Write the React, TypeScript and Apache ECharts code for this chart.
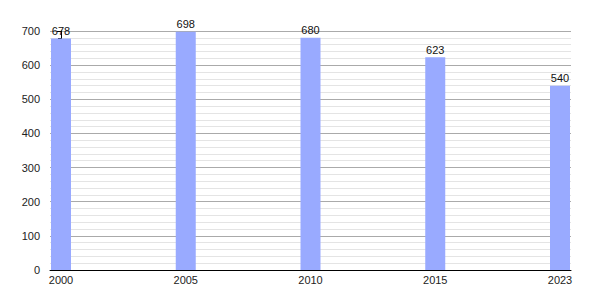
import React, { useEffect, useRef } from "react";
import * as echarts from "echarts";

const years = ["2000", "2005", "2010", "2015", "2023"];
const populations = [678, 698, 680, 623, 540];
const yTicks = [0, 100, 200, 300, 400, 500, 600, 700];

export default function App() {
  const ref = useRef<HTMLDivElement>(null);
  useEffect(() => {
    if (!ref.current) return;
    const chart = echarts.init(ref.current, undefined, { renderer: "svg" });
    const idx = years.map((_, i) => i);
    chart.setOption({
      animation: false,
      textStyle: { fontFamily: "Liberation Sans, Arial, sans-serif" },
      grid: { left: 50, right: 29, top: 31, bottom: 30, containLabel: false },
      xAxis: {
        type: "value",
        min: -0.0882,
        max: 4.0882,
        splitLine: { show: false },
        axisLine: { show: true, onZero: false, lineStyle: { color: "#000", width: 1 } },
        axisTick: { show: false },
        axisLabel: {
          show: true,
          customValues: idx,
          formatter: (v: number) => years[Math.round(v)] ?? "",
          color: "#222",
          fontSize: 11,
          margin: 4,
        },
      },
      yAxis: {
        type: "value",
        min: 0,
        max: yTicks[yTicks.length - 1],
        interval: 100,
        axisLine: { show: true, lineStyle: { color: "#000", width: 1 } },
        axisTick: { show: true, length: 4, lineStyle: { color: "#000" } },
        minorTick: { show: true, splitNumber: 5, length: 3, lineStyle: { color: "#000" } },
        splitLine: { show: true, lineStyle: { color: "#aaa", width: 1 } },
        minorSplitLine: { show: true, lineStyle: { color: "#e4e4e4", width: 1 } },
        axisLabel: { color: "#222", fontSize: 11, margin: 10 },
      },
      series: [
        {
          type: "bar",
          data: populations.map((v, i) => [i, v]),
          barWidth: 20,
          itemStyle: { color: "#99aaff" },
          label: {
            show: true,
            position: "top",
            distance: 2,
            color: "#111",
            fontSize: 11,
          },
        },
      ],
    });
    return () => chart.dispose();
  }, []);
  return <div ref={ref} style={{ width: 600, height: 300, position: "absolute", left: 0, top: 0 }} />;
}
